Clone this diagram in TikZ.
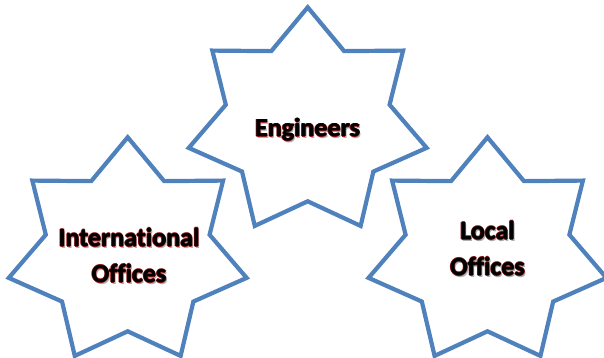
\documentclass[tikz,border=0pt]{standalone}
\usepackage{fontspec}
\setmainfont{Carlito}[RawFeature=-liga]
\usepackage{xcolor}
\definecolor{starblue}{HTML}{4F81BD}
\definecolor{glowred}{HTML}{8B1A1A}
\definecolor{shadegray}{HTML}{B0B0B0}

% black letters with a thin red rim and a soft shadow
\newcommand{\glowtxt}[1]{\leavevmode
  \rlap{\hspace{1.4pt}\raisebox{-1.8pt}{\textcolor{shadegray}{#1}}}%
  \rlap{\hspace{-0.8pt}\textcolor{glowred}{#1}}%
  \rlap{\hspace{0.8pt}\textcolor{glowred}{#1}}%
  \rlap{\raisebox{0.8pt}{\textcolor{glowred}{#1}}}%
  \rlap{\raisebox{-0.8pt}{\textcolor{glowred}{#1}}}%
  \rlap{\hspace{0.25pt}#1}%
  #1}

\begin{document}
\begin{tikzpicture}[x=1pt, y=1pt,
    starline/.style={draw=starblue, line width=4.2pt, fill=white},
    label/.style={font=\fontsize{26}{36}\selectfont\bfseries, align=center, text=black}]
    \useasboundingbox[fill=white] (0,0) rectangle (604,358);

    % Seven-point stars
    \foreach \cx/\cy in {307.7/235.7, 127.7/105.7, 487.5/105.7} {
        \begin{scope}[shift={(\cx,\cy)}]
            \draw[starline] (90:122 and 115)
                \foreach \k in {0,...,6} {
                    -- ({90+\k*360/7+180/7}:84 and 79)
                    -- ({90+(\k+1)*360/7}:122 and 115)
                } -- cycle;
        \end{scope}
    }

    % Labels
    \node[label, anchor=base] (eng) at (307.5,221) {\glowtxt{Engineers}};
    \node[label] (intl) at (129,102) {\glowtxt{International}\\\glowtxt{Offices}};
    \node[label] (local) at (487.5,109) {\glowtxt{Local}\\\glowtxt{Offices}};
\end{tikzpicture}
\end{document}
